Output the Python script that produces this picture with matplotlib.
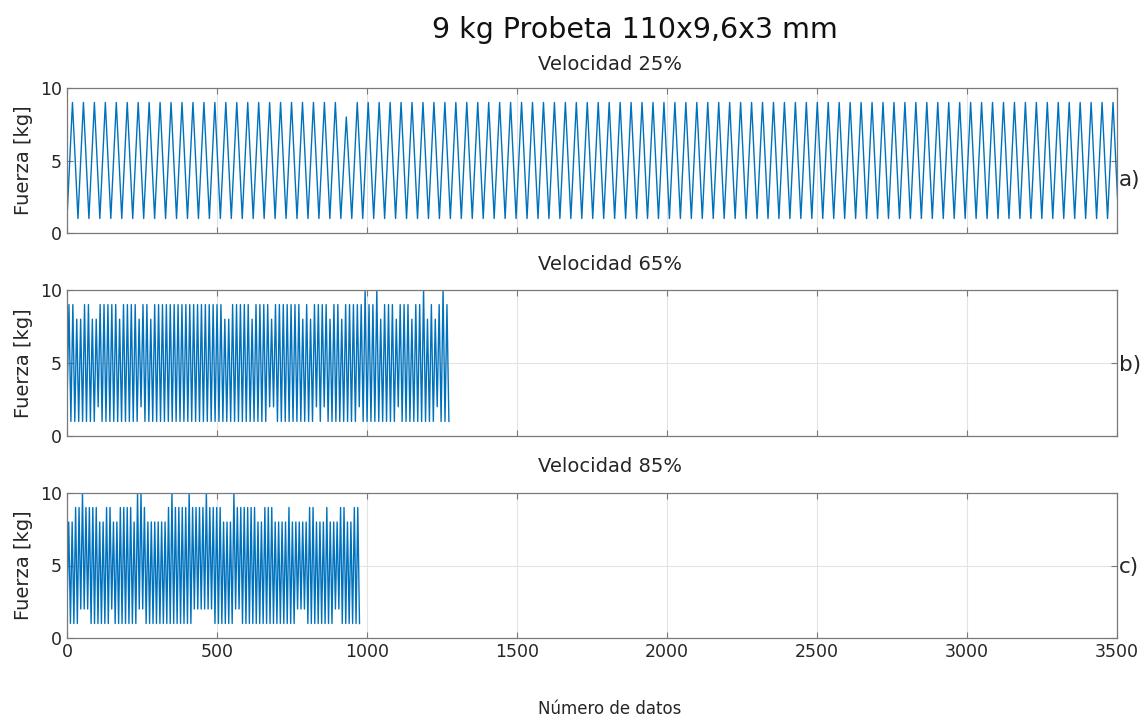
import numpy as np
import matplotlib
matplotlib.use("Agg")
import matplotlib.pyplot as plt

# ---- text ----
title = "9 kg Probeta 110x9,6x3 mm"
subtitles = ["Velocidad 25%", "Velocidad 65%", "Velocidad 85%"]
panel_tags = ["a)", "b)", "c)"]
x_label = "Número de datos"
y_label = "Fuerza [kg]"
x_ticks = [0, 500, 1000, 1500, 2000, 2500, 3000, 3500]
y_ticks = [0, 5, 10]

# ---- data: samples per test and the load at each turning point ----
n_samples = [3505, 1273, 975]

peaks_a = [9, 9, 9, 9, 9, 9, 9, 9, 9, 9, 9, 9, 9, 9, 9, 9,
           9, 9, 9, 9, 9, 9, 9, 9, 9, 8, 9, 9, 9, 9, 9, 9,
           9, 9, 9, 9, 9, 9, 9, 9, 9, 9, 9, 9, 9, 9, 9, 9,
           9, 9, 9, 9, 9, 9, 9, 9, 9, 9, 9, 9, 9, 9, 9, 9,
           9, 9, 9, 9, 9, 9, 9, 9, 9, 9, 9, 9, 9, 9, 9, 9,
           9, 9, 9, 9, 9, 9, 9, 9, 9, 9, 9, 9, 9, 9, 9, 9]
valleys_a = [1, 1, 1, 1, 1, 1, 1, 1, 1, 1, 1, 1, 1, 1, 1, 1,
             1, 1, 1, 1, 1, 1, 1, 1, 1, 1, 1, 1, 1, 1, 1, 1,
             1, 1, 1, 1, 1, 1, 1, 1, 1, 1, 1, 1, 1, 1, 1, 1,
             1, 1, 1, 1, 1, 1, 1, 1, 1, 1, 1, 1, 1, 1, 1, 1,
             1, 1, 1, 1, 1, 1, 1, 1, 1, 1, 1, 1, 1, 1, 1, 1,
             1, 1, 1, 1, 1, 1, 1, 1, 1, 1, 1, 1, 1, 1, 1, 1,
             1]

peaks_b = [9, 9, 8, 8, 9, 9, 8, 8, 9, 9, 9, 9, 9, 8, 9, 9,
           9, 9, 8, 9, 9, 8, 9, 9, 9, 9, 9, 9, 9, 9, 9, 9,
           9, 9, 9, 9, 9, 9, 9, 9, 8, 8, 9, 9, 9, 9, 9, 8,
           9, 9, 9, 9, 8, 9, 9, 9, 9, 9, 9, 9, 8, 9, 8, 9,
           9, 9, 9, 8, 9, 9, 8, 9, 9, 9, 9, 9, 10, 9, 9, 10,
           8, 9, 9, 9, 8, 9, 9, 9, 8, 9, 9, 10, 8, 9, 8, 9,
           10, 9]
valleys_b = [2, 1, 1, 1, 1, 1, 1, 1, 2, 1, 1, 1, 1, 1, 1, 1,
             1, 1, 1, 2, 1, 1, 1, 1, 1, 1, 1, 1, 1, 1, 1, 1,
             1, 1, 1, 1, 1, 1, 1, 1, 1, 1, 1, 1, 1, 1, 1, 1,
             1, 1, 1, 1, 2, 2, 1, 1, 1, 1, 1, 1, 1, 1, 1, 1,
             2, 1, 2, 1, 1, 1, 1, 1, 1, 1, 1, 2, 1, 1, 1, 1,
             1, 1, 1, 1, 1, 2, 1, 1, 1, 1, 1, 1, 1, 1, 1, 2,
             1, 1, 1]

peaks_c = [8, 8, 9, 9, 10, 9, 9, 9, 9, 8, 8, 9, 9, 8, 8, 9,
           9, 9, 9, 8, 10, 10, 9, 8, 8, 8, 8, 8, 8, 9, 10, 9,
           9, 9, 9, 10, 9, 9, 9, 9, 10, 9, 9, 9, 9, 8, 8, 8,
           10, 9, 9, 9, 9, 9, 9, 8, 8, 9, 9, 9, 8, 8, 8, 8,
           9, 8, 8, 8, 8, 8, 9, 9, 8, 8, 8, 9, 8, 8, 8, 9,
           9, 8, 8, 9, 9]
valleys_c = [2, 1, 1, 1, 2, 2, 2, 1, 1, 1, 1, 1, 1, 2, 1, 1,
             1, 1, 1, 1, 1, 2, 2, 1, 1, 1, 1, 1, 1, 1, 1, 1,
             1, 1, 1, 1, 1, 2, 2, 2, 2, 2, 2, 1, 1, 1, 1, 1,
             1, 2, 2, 1, 1, 1, 1, 1, 1, 1, 1, 1, 1, 1, 1, 1,
             1, 1, 1, 2, 2, 2, 1, 1, 1, 1, 1, 1, 1, 1, 2, 2,
             1, 1, 1, 1, 1, 1]

series = [(valleys_a, peaks_a), (valleys_b, peaks_b), (valleys_c, peaks_c)]

# ---- styling ----
LINE = "#0072BD"
TXT = "#262626"
BOX = "#7a7a7a"
GRID = "#e3e3e3"
plt.rcParams["font.family"] = ["DejaVu Sans"]

fig = plt.figure(figsize=(11.42, 7.17), dpi=100)
W, H = 1142, 717

# axes rectangles in pixels: left, top, right, bottom
rects = [(67, 88, 1117, 233), (67, 290, 1117, 436), (67, 493, 1117, 638)]
tag_y = [180, 365, 567]
sub_y = [64, 265, 467]

for i, ((vals_lo, vals_hi), n, r) in enumerate(zip(series, n_samples, rects)):
    l, t, rr, b = r
    ax = fig.add_axes([l / W, 1 - b / H, (rr - l) / W, (b - t) / H])

    # alternate valley / peak turning points
    y = np.empty(len(vals_lo) + len(vals_hi))
    y[0::2] = vals_lo
    y[1::2] = vals_hi
    x = np.linspace(0, n, len(y))
    ax.plot(x, y, color=LINE, lw=1.0)

    ax.set_xlim(0, 3500)
    ax.set_ylim(0, 10)
    ax.set_xticks(x_ticks)
    ax.set_yticks(y_ticks)
    ax.grid(True, color=GRID, lw=0.8)
    ax.set_axisbelow(True)
    ax.tick_params(direction="in", length=4, width=0.8, colors=BOX,
                   labelcolor=TXT, labelsize=12.5, top=True, right=True)
    for s in ax.spines.values():
        s.set_color(BOX)
        s.set_linewidth(0.9)
    if i < 2:
        ax.tick_params(labelbottom=False)
    ax.set_ylabel(y_label, fontsize=14, color=TXT, labelpad=5)

    fig.text(610 / W, 1 - sub_y[i] / H, subtitles[i], ha="center",
             va="center", fontsize=14, color=TXT)
    fig.text(1119 / W, 1 - tag_y[i] / H, panel_tags[i], ha="left",
             va="center", fontsize=15.5, color=TXT)

fig.text(635 / W, 1 - 30 / H, title, ha="center", va="center",
         fontsize=20.5, color="#111111")
fig.text(610 / W, 1 - 709 / H, x_label, ha="center", va="center",
         fontsize=12, color=TXT)

fig.savefig("out.png", dpi=100)
